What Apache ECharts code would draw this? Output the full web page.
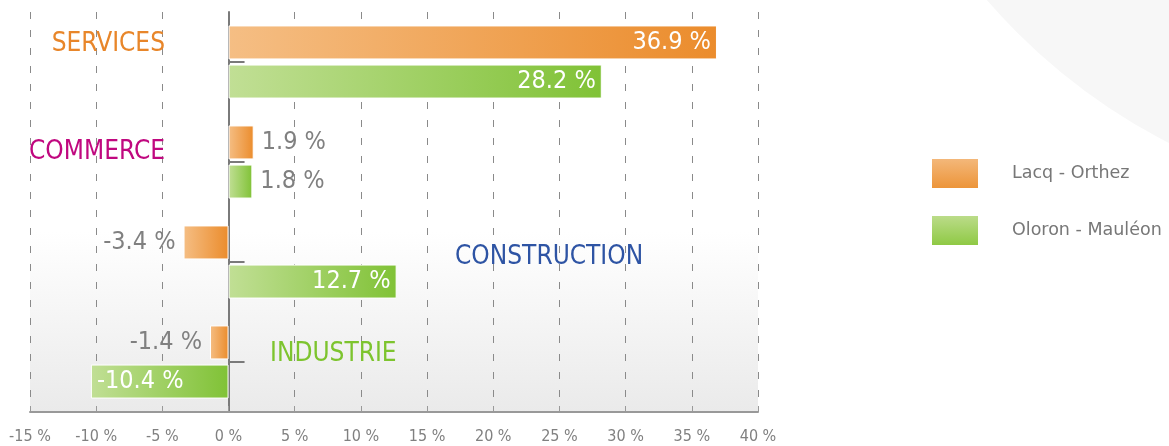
<!DOCTYPE html>
<html>
<head>
<meta charset="utf-8">
<script src="https://cdn.jsdelivr.net/npm/echarts@6/dist/echarts.min.js"></script>
<style>
    html, body { margin: 0; padding: 0; background: #fff; }
    #chart { width: 1169px; height: 446px; }
</style>
</head>
<body>
<div id="chart"></div>
<script>
    // data
    var categories = ['SERVICES', 'COMMERCE', 'CONSTRUCTION', 'INDUSTRIE'];
    var seriesNames = ['Lacq - Orthez', 'Oloron - Mauléon'];
    var lacqOrthez = [36.9, 1.9, -3.4, -1.4];
    var oloronMauleon = [28.2, 1.8, 12.7, -10.4];
    var xMin = -15, xMax = 40, xStep = 5;

    var FONT = '"DejaVu Sans Condensed", "DejaVu Sans", sans-serif';

    // where the category names sit (pixel x, offset from band centre)
    var catLabelPos = [
        {x: 165, align: 'right', dy: -18, color: '#E8862A'},
        {x: 165, align: 'right', dy: -10, color: '#C0087F'},
        {x: 455, align: 'left', dy: -5, color: '#2E54A4'},
        {x: 270, align: 'left', dy: -8, color: '#7DC42E'}
    ];

    function hGrad(c0, c1) {
        return new echarts.graphic.LinearGradient(0, 0, 1, 0, [
            {offset: 0, color: c0}, {offset: 1, color: c1}
        ]);
    }
    function vGrad(c0, c1) {
        return new echarts.graphic.LinearGradient(0, 0, 0, 1, [
            {offset: 0, color: c0}, {offset: 1, color: c1}
        ]);
    }

    function toItems(arr) {
        return arr.map(function (v) {
            var inside = Math.abs(v) >= 10;
            var pos;
            if (inside) pos = v >= 0 ? 'insideRight' : 'insideLeft';
            else pos = v >= 0 ? 'right' : 'left';
            return {
                value: v,
                label: {
                    position: pos,
                    distance: inside ? 6 : 8,
                    color: inside ? '#ffffff' : '#808080'
                }
            };
        });
    }

    var barLabel = {
        show: true,
        fontFamily: FONT,
        fontSize: 25,
        formatter: function (p) { return p.value + ' %'; }
    };

    var el = document.getElementById('chart');
    var myChart = echarts.init(el);
    var option = {
        backgroundColor: '#ffffff',
        animation: false,
        legend: {
            orient: 'vertical',
            left: 930,
            top: 157,
            padding: 0,
            itemWidth: 48,
            itemHeight: 31,
            itemGap: 24,
            icon: 'rect',
            textStyle: {
                fontFamily: '"DejaVu Sans", sans-serif',
                fontSize: 17.5,
                color: '#777',
                padding: [0, 0, 0, 28]
            },
            data: [
                {name: seriesNames[0], itemStyle: {color: vGrad('#F4BA7E', '#EC9235')}},
                {name: seriesNames[1], itemStyle: {color: vGrad('#BEDD8E', '#8CC840')}}
            ]
        },
        grid: {
            left: 30,
            right: 411,
            top: 12,
            bottom: 34,
            show: true,
            borderWidth: 0,
            backgroundColor: new echarts.graphic.LinearGradient(0, 0, 0, 1, [
                {offset: 0, color: '#ffffff'},
                {offset: 0.55, color: '#ffffff'},
                {offset: 1, color: '#eaeaea'}
            ])
        },
        xAxis: {
            type: 'value',
            min: xMin,
            max: xMax,
            interval: xStep,
            axisLine: {show: true, onZero: false, lineStyle: {color: '#999', width: 2}},
            axisTick: {show: true, inside: true, length: 6, lineStyle: {color: '#999'}},
            axisLabel: {
                color: '#808080',
                fontFamily: FONT,
                fontSize: 16,
                margin: 17,
                formatter: '{value} %'
            },
            splitLine: {show: true, lineStyle: {color: '#8a8a8a', type: [7, 11], width: 1}}
        },
        yAxis: {
            type: 'category',
            data: categories,
            inverse: true,
            axisLine: {show: true, onZero: true, lineStyle: {color: '#7a7a7a', width: 2}},
            axisTick: {show: true, alignWithLabel: true, inside: true, length: 16, lineStyle: {color: '#7a7a7a', width: 2}},
            axisLabel: {show: false},
            splitLine: {show: false}
        },
        series: [
            {
                name: seriesNames[0],
                type: 'bar',
                barWidth: 34,
                barGap: '15%',
                itemStyle: {color: hGrad('#F5BE84', '#EB8C2C'), borderColor: '#fff', borderWidth: 1},
                label: barLabel,
                data: toItems(lacqOrthez)
            },
            {
                name: seriesNames[1],
                type: 'bar',
                barWidth: 34,
                barGap: '15%',
                itemStyle: {color: hGrad('#C1DF95', '#80C236'), borderColor: '#fff', borderWidth: 1},
                label: barLabel,
                data: toItems(oloronMauleon)
            }
        ]
    };
    myChart.setOption(option);

    // decoration + category names placed on the category scale
    var graphics = [{
        type: 'circle',
        z: -10,
        shape: {cx: 1446, cy: -397, r: 607},
        style: {fill: '#f7f7f7'}
    }];
    categories.forEach(function (c, i) {
        var y = myChart.convertToPixel({yAxisIndex: 0}, c);
        var p = catLabelPos[i];
        graphics.push({
            type: 'text',
            x: p.x,
            y: y + p.dy,
            style: {
                text: c,
                fill: p.color,
                font: '26px ' + FONT,
                align: p.align,
                verticalAlign: 'middle'
            }
        });
    });
    myChart.setOption({graphic: graphics});
</script>
</body>
</html>
